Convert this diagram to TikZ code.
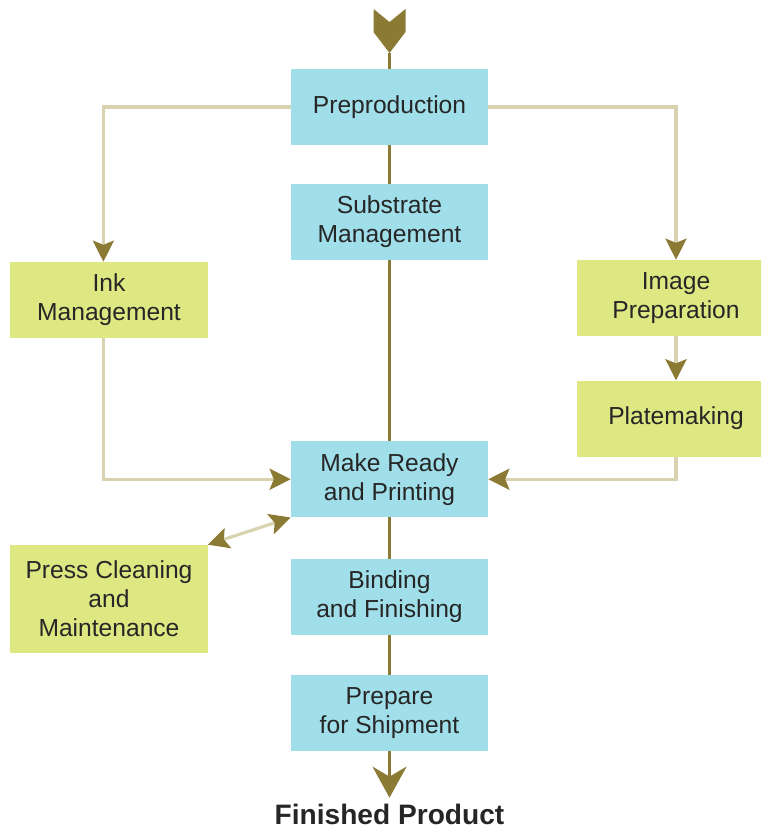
\documentclass[tikz,border=0pt]{standalone}
\usepackage{fontspec}
\setmainfont{Liberation Sans}
\usepackage{xcolor}
\usepackage{tikz}
\usetikzlibrary{positioning,arrows.meta,backgrounds}

\definecolor{stepblue}{HTML}{A0DEE9}
\definecolor{sidegreen}{HTML}{DEE882}
\definecolor{arrowolive}{HTML}{8B7A33}
\definecolor{linekhaki}{HTML}{D8D2AE}

\tikzset{
    >={Stealth[length=15pt, width=15pt, inset=3pt, color=arrowolive]},
    stage/.style={fill=stepblue, minimum width=4.925cm, minimum height=1.9cm, align=center,
        text=black!85, font=\fontsize{17.5}{20.5}\selectfont},
    side/.style={stage, fill=sidegreen},
    feed/.style={draw=linekhaki, line width=2.2pt, ->},
    trunk/.style={draw=arrowolive, line width=2.8pt}
}

\begin{document}
\begin{tikzpicture}[x=0.025cm, y=-0.025cm]
    \clip (0,0) rectangle (761,833);

    \node [stage] (pre) at (389.5,107) {Preproduction};
    \node [stage, below=0.95cm of pre] (sub) {Substrate\\Management};
    \node [stage, below=4.525cm of sub] (make) {Make Ready\\and Printing};
    \node [stage, below=1.025cm of make] (bind) {Binding\\and Finishing};
    \node [stage, below=1cm of bind] (ship) {Prepare\\for Shipment};
    \node [font=\bfseries\fontsize{20}{23}\selectfont, text=black!85, inner sep=0pt, anchor=base] (fin) at (389.5,824) {Finished Product};

    \node [side] (ink) at (109,300) {Ink\\Management};
    \node [side] (img) at (676,298) {Image\\Preparation};
    \node [side, below=1.1cm of img] (plate) {Platemaking};
    \node [side, minimum height=2.7cm] (press) at (109,599) {Press Cleaning\\and\\Maintenance};

    % main flow behind the boxes
    \begin{scope}[on background layer]
        \coordinate (top) at (389.5,9);
        \coordinate (tip) at (389.5,53);
        \fill [arrowolive] (top) ++(-16,0) -- ++(16,13) -- ++(16,-13) -- ++(0,23) -- ++(-16,21) -- ++(-16,-21) -- cycle;
        \draw [trunk, -{Stealth[length=22pt, width=24pt, inset=7pt]}] (tip) -- ([yshift=4pt]fin.north);
    \end{scope}

    \draw [feed] (pre.west) -| ([xshift=-4pt]ink.north);
    \draw [feed] (pre.east) -| (img.north);
    \draw [feed] (img.south) -- (plate.north);
    \draw [feed] ([xshift=-4pt]ink.south) |- (make.west);
    \draw [feed] (plate.south) |- (make.east);
    \draw [feed, <->] (press.north east) -- (make.south west);
\end{tikzpicture}
\end{document}
